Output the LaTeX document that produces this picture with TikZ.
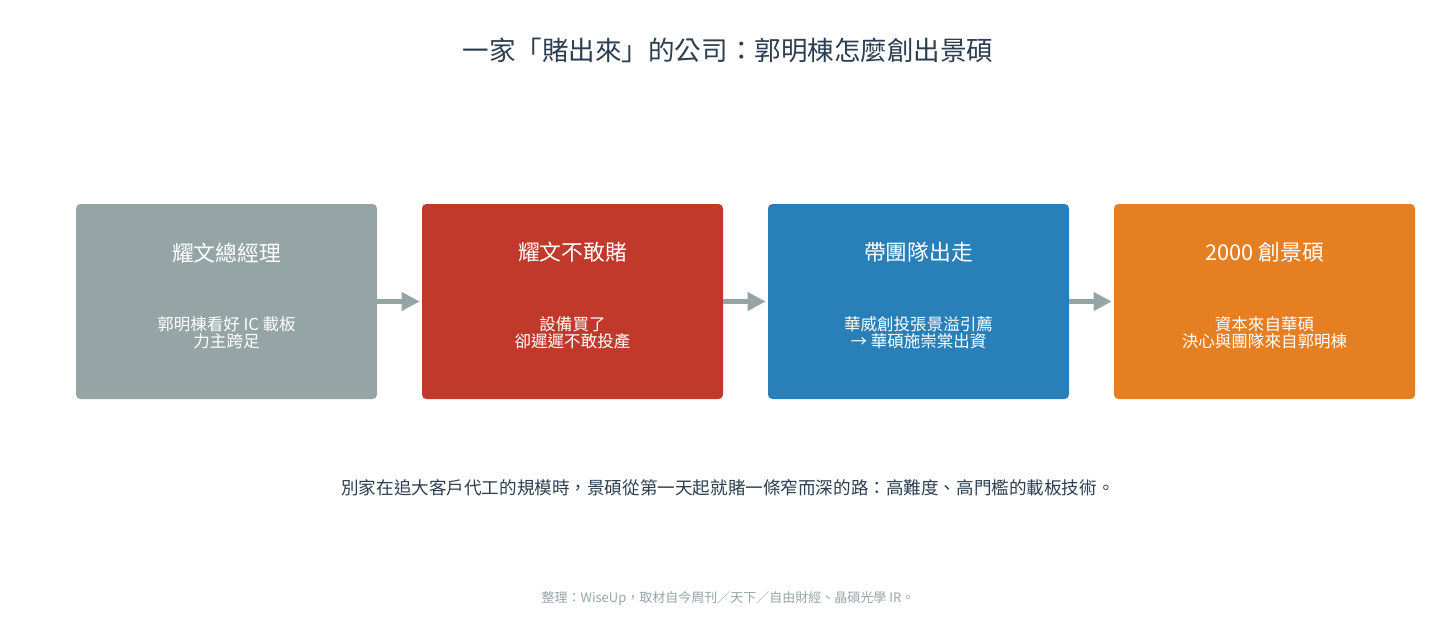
\documentclass[tikz,border=0pt]{standalone}
\usepackage{xcolor}
\usepackage{fontspec}
\setmainfont{Noto Sans CJK TC}
\usepackage{tikz}
\usetikzlibrary{arrows.meta,positioning}
\definecolor{slate}{HTML}{95A5A6}
\definecolor{brick}{HTML}{C0392B}
\definecolor{ocean}{HTML}{2980B9}
\definecolor{amber}{HTML}{E67E22}
\definecolor{navy}{HTML}{2C3E50}

\begin{document}
\begin{tikzpicture}[
  stagebox/.style={rounded corners=2.5pt, minimum width=6.02cm, minimum height=3.9cm, inner sep=0pt},
  stagetitle/.style={text=white, font=\fontsize{12.4}{14}\selectfont, anchor=center},
  stagebody/.style={text=white, align=center, font=\fontsize{9.4}{9.8}\selectfont, anchor=center},
  flow/.style={-{Triangle[length=0.36cm,width=0.36cm]}, line width=2.3pt, slate}
]
\useasboundingbox (0,0) rectangle (29.12,-12.44);

% -- Headline
\node[text=navy, font=\fontsize{15.1}{18}\selectfont] (head) at (14.56,-1.0)
  {一家「賭出來」的公司：郭明棟怎麼創出景碩};

% -- Four stages, evenly spaced
\node[stagebox, fill=slate] (s1) at (4.53,-6.03)  {};
\node[stagebox, fill=brick] (s2) at (11.45,-6.03) {};
\node[stagebox, fill=ocean] (s3) at (18.37,-6.03) {};
\node[stagebox, fill=amber] (s4) at (25.29,-6.03) {};

\node[stagetitle] (s1t) at ([yshift=-0.98cm]s1.north) {耀文總經理};
\node[stagetitle] (s2t) at ([yshift=-0.98cm]s2.north) {耀文不敢賭};
\node[stagetitle] (s3t) at ([yshift=-0.98cm]s3.north) {帶團隊出走};
\node[stagetitle] (s4t) at ([yshift=-0.98cm]s4.north) {2000 創景碩};

\node[stagebody] (s1b) at ([yshift=-2.58cm]s1.north) {郭明棟看好 IC 載板\\力主跨足};
\node[stagebody] (s2b) at ([yshift=-2.58cm]s2.north) {設備買了\\卻遲遲不敢投產};
\node[stagebody] (s3b) at ([yshift=-2.58cm]s3.north) {華威創投張景溢引薦\\→ 華碩施崇棠出資};
\node[stagebody] (s4b) at ([yshift=-2.58cm]s4.north) {資本來自華碩\\決心與團隊來自郭明棟};

% -- Arrows between stages
\foreach \a/\b in {s1/s2,s2/s3,s3/s4}
  \draw[flow] (\a.east) -- ([xshift=-0.04cm]\b.west);

% -- Caption and source line
\node[text=navy, font=\fontsize{10}{12}\selectfont] (note) at (14.56,-9.76)
  {別家在追大客戶代工的規模時，景碩從第一天起就賭一條窄而深的路：高難度、高門檻的載板技術。};
\node[text=slate, font=\fontsize{7.4}{9}\selectfont] (src) at (14.56,-11.96)
  {整理：WiseUp，取材自今周刊／天下／自由財經、晶碩光學 IR。};
\end{tikzpicture}
\end{document}
